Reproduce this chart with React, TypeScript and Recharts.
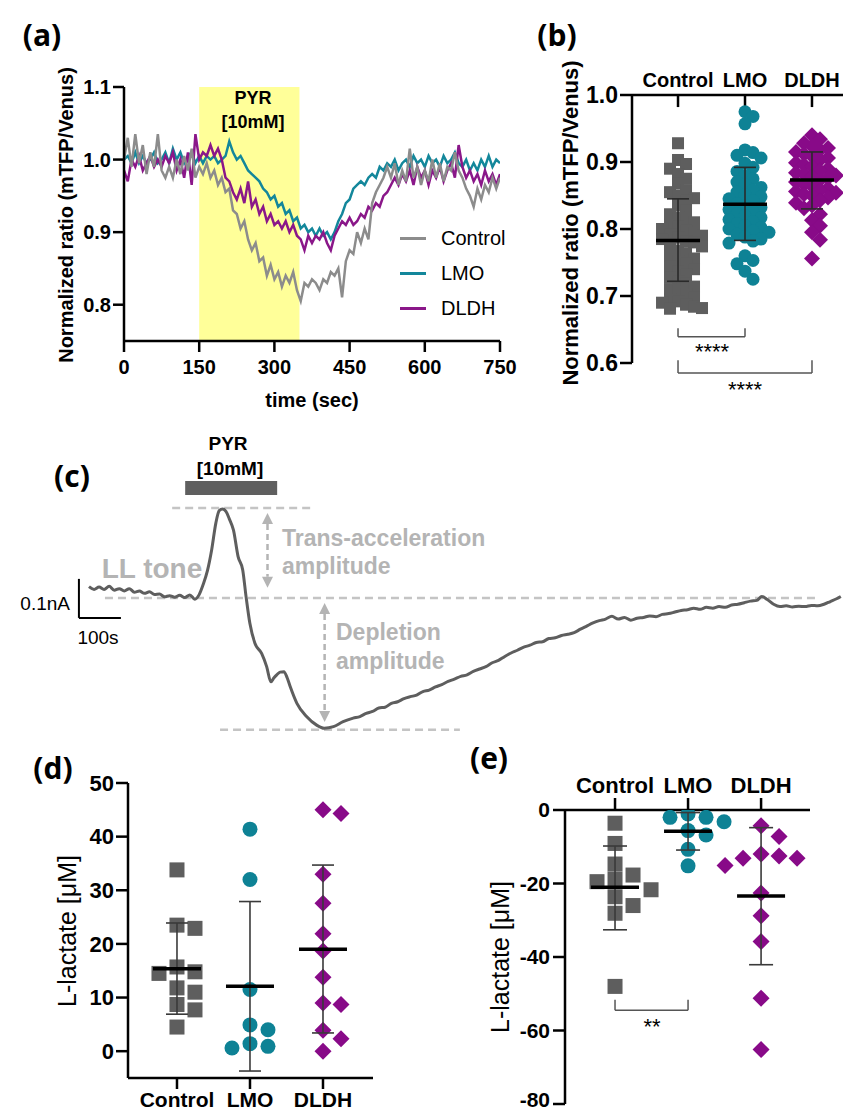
import React from 'react';
import {
  LineChart,
  Line,
  XAxis,
  YAxis,
  ReferenceArea,
  ReferenceLine,
  ScatterChart,
  Scatter,
} from 'recharts';

const FONT = '"Liberation Sans", Arial, sans-serif';
const LABEL_FONT = '"Open Sans", "Liberation Sans", sans-serif';
const GRAY = '#5e5e5e';
const TEAL = '#0e8295';
const PURPLE = '#880a88';
const ANNOT = '#b4b4b4';

const groups = ['Control', 'LMO', 'DLDH'];

// ---- (a) FRET ratio time course, sampled every 7.5 s ----
const aTime = Array.from({ length: 101 }, (_, i) => i * 7.5);
const aControl = [
  1.0, 1.03, 0.99, 1.035, 0.995, 1.02, 0.98, 1.01, 0.99, 1.035,
  0.985, 0.975, 0.99, 0.975, 1.0, 0.98, 1.005, 0.985, 1.015, 0.975,
  0.99, 0.98, 0.995, 0.975, 0.985, 0.965, 0.975, 0.955, 0.96, 0.93,
  0.925, 0.905, 0.915, 0.89, 0.875, 0.885, 0.86, 0.865, 0.84, 0.855,
  0.835, 0.845, 0.825, 0.84, 0.83, 0.845, 0.82, 0.805, 0.83, 0.825,
  0.835, 0.83, 0.82, 0.835, 0.83, 0.845, 0.84, 0.85, 0.81, 0.86,
  0.875, 0.87, 0.9, 0.885, 0.905, 0.89, 0.94, 0.955, 0.965, 0.975,
  0.99, 0.975, 0.995, 0.965, 0.985, 0.97, 1.015, 0.975, 0.99, 0.965,
  0.985, 0.97, 1.0, 0.975, 0.995, 0.97, 0.99, 0.985, 1.01, 0.985,
  0.975, 0.96, 0.95, 0.935, 0.96, 0.945, 0.965, 0.955, 0.975, 0.96,
  0.975,
];
const aLmo = [
  1.0, 1.005, 0.995, 1.01, 0.995, 1.005, 0.995, 1.0, 1.01, 0.995,
  1.0, 1.01, 0.995, 1.015, 1.0, 1.01, 0.995, 1.005, 1.01, 0.995,
  1.005, 0.995, 1.005, 1.0, 1.005, 0.995, 1.0, 1.005, 1.025, 1.01,
  1.0, 1.005, 0.995, 0.985, 0.98, 0.975, 0.97, 0.96, 0.955, 0.945,
  0.95, 0.935, 0.94, 0.925, 0.93, 0.915, 0.92, 0.905, 0.91, 0.9,
  0.905, 0.895, 0.905, 0.895, 0.9, 0.89, 0.9, 0.915, 0.925, 0.94,
  0.945, 0.96, 0.965, 0.97, 0.965, 0.975, 0.98, 0.975, 0.99, 0.985,
  0.995, 0.99, 1.0, 0.985, 0.995, 1.0, 0.99, 1.005, 0.995, 1.0,
  0.99, 1.005, 0.995, 1.0, 0.99, 1.005, 0.995, 1.0, 1.01, 0.995,
  0.99, 1.0, 0.985, 0.995, 0.985, 1.0, 0.99, 1.005, 0.99, 1.0,
  0.995,
];
const aDldh = [
  0.985, 0.97, 1.0, 0.99, 1.005, 0.985, 0.995, 1.005, 0.99, 1.0,
  0.99, 1.005, 0.995, 1.01, 0.985, 1.0, 0.975, 1.01, 0.965, 1.035,
  1.0, 1.01, 1.005, 1.02, 1.005, 1.015, 1.0, 0.975, 0.97, 0.955,
  0.945, 0.96, 0.94, 0.97, 0.935, 0.945, 0.925, 0.935, 0.915, 0.925,
  0.91, 0.915, 0.905, 0.915, 0.9, 0.91, 0.895, 0.89, 0.875, 0.895,
  0.885, 0.895, 0.89, 0.9, 0.885, 0.875, 0.895, 0.905, 0.915, 0.91,
  0.92, 0.91, 0.915, 0.925, 0.92, 0.935, 0.93, 0.94, 0.935, 0.95,
  0.955, 0.965, 0.975, 0.965, 0.98, 0.97, 0.985, 0.965, 0.99, 0.975,
  0.985, 0.965, 0.985, 0.975, 0.99, 0.97, 0.985, 0.995, 0.975, 1.02,
  0.99, 0.975, 0.985, 0.97, 0.98, 0.965, 0.985, 0.97, 0.98, 0.965,
  0.98,
];
const aTicksX = [0, 150, 300, 450, 600, 750];
const aTicksY = [0.8, 0.9, 1.0, 1.1];
const aSeries = [
  { key: 'lmo', name: 'LMO', color: '#13879b' },
  { key: 'dldh', name: 'DLDH', color: '#8a1789' },
  { key: 'control', name: 'Control', color: '#8c8c8c' },
];
const aLegend = ['Control', 'LMO', 'DLDH'];

// ---- (b) normalized ratio per cell ----
const bControl = [
  0.928, 0.903, 0.897, 0.89, 0.882, 0.875, 0.868, 0.858, 0.855, 0.85,
  0.846, 0.842, 0.835, 0.828, 0.822, 0.817, 0.812, 0.81, 0.806, 0.803,
  0.8, 0.798, 0.795, 0.792, 0.79, 0.787, 0.785, 0.782, 0.78, 0.777,
  0.774, 0.768, 0.764, 0.76, 0.756, 0.752, 0.748, 0.744, 0.74, 0.736,
  0.732, 0.727, 0.722, 0.718, 0.714, 0.71, 0.706, 0.702, 0.698, 0.695,
  0.692, 0.69, 0.687, 0.684, 0.682, 0.681,
];
const bLmo = [
  0.975, 0.968, 0.957, 0.918, 0.914, 0.91, 0.906, 0.898, 0.892, 0.886,
  0.88, 0.875, 0.87, 0.866, 0.862, 0.858, 0.855, 0.851, 0.848, 0.845,
  0.842, 0.838, 0.835, 0.832, 0.829, 0.826, 0.823, 0.82, 0.817, 0.814,
  0.811, 0.808, 0.805, 0.802, 0.8, 0.797, 0.795, 0.792, 0.788, 0.785,
  0.782, 0.779, 0.76, 0.753, 0.748, 0.737, 0.725,
];
const bDldh = [
  0.94, 0.934, 0.928, 0.924, 0.921, 0.918, 0.915, 0.912, 0.909, 0.906,
  0.903, 0.899, 0.896, 0.893, 0.89, 0.887, 0.884, 0.882, 0.88, 0.878,
  0.876, 0.873, 0.87, 0.867, 0.864, 0.861, 0.858, 0.856, 0.854, 0.852,
  0.85, 0.847, 0.843, 0.839, 0.835, 0.831, 0.822, 0.813, 0.805, 0.795,
  0.784, 0.756,
];
const bMean = [0.783, 0.837, 0.873];
const bSdLow = [0.722, 0.783, 0.83];
const bSdHigh = [0.845, 0.892, 0.915];
const bTicksY = [0.6, 0.7, 0.8, 0.9, 1.0];

// ---- (c) amperometric trace (time s, current nA vs. baseline) ----
const cTime = [
  0, 12, 24, 36, 48, 60, 72, 84, 96, 108, 120, 132, 144, 156, 168, 180, 192, 204,
  216, 228, 240, 252, 262, 272, 282, 292, 302, 310, 318, 326, 334, 344, 355, 366,
  374, 383, 395, 411, 423, 433, 440, 447, 455, 464, 472, 479, 495, 518, 542, 560,
  582, 605, 629, 645, 660, 675, 690, 705, 720, 735, 750, 765, 780, 795, 810, 825,
  840, 855, 870, 885, 900, 915, 930, 945, 960, 975, 990, 1005, 1020, 1035, 1050,
  1065, 1080, 1095, 1110, 1125, 1140, 1155, 1170, 1185, 1200, 1215, 1230, 1245,
  1260, 1275, 1290, 1305, 1320, 1335, 1350, 1365, 1380, 1395, 1410, 1425, 1440,
  1455, 1470, 1485, 1500, 1515, 1530, 1545, 1560, 1575, 1590, 1602, 1615, 1630,
  1645, 1660, 1675, 1690, 1705, 1720, 1735, 1750, 1765, 1780, 1790,
];
const cCurrent = [
  0.029, 0.022, 0.028, 0.022, 0.03, 0.02, 0.024, 0.018, 0.024, 0.015, 0.018, 0.012,
  0.016, 0.009, 0.01, 0.003, 0.006, 0.002, 0.007, 0.001, 0.008, -0.003, 0.008,
  0.035, 0.07, 0.123, 0.192, 0.224, 0.228, 0.222, 0.203, 0.174, 0.106, 0.072,
  0.003, -0.065, -0.116, -0.142, -0.176, -0.215, -0.205, -0.197, -0.19, -0.189,
  -0.205, -0.227, -0.27, -0.304, -0.326, -0.334, -0.33, -0.317, -0.308, -0.304,
  -0.296, -0.291, -0.282, -0.28, -0.27, -0.266, -0.258, -0.253, -0.249, -0.24,
  -0.236, -0.228, -0.222, -0.214, -0.208, -0.201, -0.197, -0.188, -0.182, -0.176,
  -0.166, -0.16, -0.15, -0.141, -0.134, -0.126, -0.121, -0.114, -0.112, -0.104,
  -0.102, -0.096, -0.093, -0.089, -0.08, -0.072, -0.064, -0.058, -0.054, -0.047,
  -0.054, -0.05, -0.057, -0.052, -0.05, -0.046, -0.048, -0.042, -0.04, -0.036,
  -0.032, -0.03, -0.026, -0.029, -0.024, -0.026, -0.022, -0.024, -0.018, -0.016,
  -0.012, -0.008, -0.006, 0.004, -0.004, -0.016, -0.022, -0.02, -0.023, -0.021,
  -0.022, -0.019, -0.02, -0.016, -0.009, -0.002, 0.004,
];
const cPeak = 0.231;
const cTrough = -0.338;
const cPyr = [229, 448];

// ---- (d) L-lactate trans-acceleration ----
const dControl = [33.8, 23.5, 22.9, 15.7, 14.8, 14.5, 11.8, 11.0, 8.7, 7.7, 4.5];
const dLmo = [41.4, 32.0, 11.5, 4.9, 4.0, 1.4, 0.9, 0.6];
const dDldh = [45.0, 44.3, 33.0, 27.6, 21.9, 18.7, 13.8, 9.0, 8.7, 3.9, 2.3, 0.0];
const dMean = [15.35, 12.1, 19.0];
const dSdLow = [6.9, -3.7, 3.4];
const dSdHigh = [23.9, 27.9, 34.7];
const dTicksY = [0, 10, 20, 30, 40, 50];

// ---- (e) L-lactate depletion ----
const eControl = [-3.6, -9.1, -14.7, -17.7, -18.8, -19.5, -21.7, -23.6, -26.0, -28.1, -48.0];
const eLmo = [-1.1, -2.0, -2.0, -3.2, -5.6, -6.8, -10.7, -15.2];
const eDldh = [-4.3, -7.2, -12.0, -12.5, -13.1, -13.1, -15.1, -22.6, -28.8, -35.8, -51.2, -65.2];
const eMean = [-21.0, -5.8, -23.4];
const eSdLow = [-32.6, -10.9, -42.1];
const eSdHigh = [-9.8, -0.7, -4.8];
const eTicksY = [-80, -60, -40, -20, 0];

// spread points of one group sideways so that close values do not overlap (GraphPad style)
function swarm(values: number[], pxPerY: number, gap: number, step: number, pxPerX: number) {
  const order = values.map((_, i) => i).sort((a, b) => values[b] - values[a]);
  const lanes: Record<number, number[]> = {};
  const off = values.map(() => 0);
  order.forEach((i) => {
    const y = values[i] * pxPerY;
    for (let k = 0; k < 40; k++) {
      const lane = k === 0 ? 0 : k % 2 ? (k + 1) / 2 : -k / 2;
      const used = lanes[lane] || [];
      if (used.every((u) => Math.abs(u - y) >= gap)) {
        lanes[lane] = [...used, y];
        off[i] = (lane * step) / pxPerX;
        break;
      }
    }
  });
  return off;
}

function groupPoints(values: number[], gi: number, pxPerY: number, gap: number, step: number, pxPerX: number) {
  const off = swarm(values, pxPerY, gap, step, pxPerX);
  return values.map((v, i) => ({ x: gi + 1 + off[i], y: v }));
}

const square = (s: number, color: string) => (p: any) => (
  <rect x={p.cx - s / 2} y={p.cy - s / 2} width={s} height={s} fill={color} />
);
const dot = (r: number, color: string) => (p: any) => <circle cx={p.cx} cy={p.cy} r={r} fill={color} />;
const diamond = (h: number, color: string) => (p: any) => (
  <polygon
    points={`${p.cx},${p.cy - h} ${p.cx + h},${p.cy} ${p.cx},${p.cy + h} ${p.cx - h},${p.cy}`}
    fill={color}
  />
);
const hBar = (w: number, color: string, sw: number) => (p: any) => (
  <line x1={p.cx - w} x2={p.cx + w} y1={p.cy} y2={p.cy} stroke={color} strokeWidth={sw} />
);

// mean line + SD whiskers, drawn as scatter series so they sit on top of the points
function SummaryMarks(mean: number[], low: number[], high: number[], capW: number, meanW: number, sdColor: string) {
  return [
    ...mean.map((_, i) => (
      <Scatter
        key={`sd${i}`}
        data={[
          { x: i + 1, y: low[i] },
          { x: i + 1, y: high[i] },
        ]}
        line={{ stroke: sdColor, strokeWidth: 1.6 }}
        shape={hBar(capW, sdColor, 1.6)}
        isAnimationActive={false}
      />
    )),
    <Scatter
      key="mean"
      data={mean.map((m, i) => ({ x: i + 1, y: m }))}
      shape={hBar(meanW, '#000', 3.5)}
      isAnimationActive={false}
    />,
  ];
}

const arrowShape = (p: any) => {
  const { x1, y1, x2, y2 } = p;
  const top = Math.min(y1, y2);
  const bot = Math.max(y1, y2);
  const h = 11;
  return (
    <g>
      <line x1={x1} x2={x2} y1={top + h} y2={bot - h} stroke={ANNOT} strokeWidth={2.5} strokeDasharray="6 4" />
      <polygon points={`${x1},${top} ${x1 + 5.5},${top + h} ${x1 - 5.5},${top + h}`} fill={ANNOT} />
      <polygon points={`${x1},${bot} ${x1 + 5.5},${bot - h} ${x1 - 5.5},${bot - h}`} fill={ANNOT} />
    </g>
  );
};

type TxtProps = {
  x: number;
  y: number;
  size: number;
  weight?: number;
  color?: string;
  align?: 'center' | 'left' | 'right';
  rotate?: boolean;
  family?: string;
  children: React.ReactNode;
};

function Txt({ x, y, size, weight = 400, color = '#000', align = 'center', rotate = false, family = FONT, children }: TxtProps) {
  const tx = align === 'center' ? '-50%' : align === 'left' ? '0' : '-100%';
  return (
    <div
      style={{
        position: 'absolute',
        left: x,
        top: y,
        fontSize: size,
        fontWeight: weight,
        color,
        fontFamily: family,
        lineHeight: 1,
        whiteSpace: 'nowrap',
        transform: `translate(${tx}, -50%)${rotate ? ' rotate(-90deg)' : ''}`,
      }}
    >
      {children}
    </div>
  );
}

const axisLine = { stroke: '#000', strokeWidth: 2.5 };
const tickText = (size: number) => ({ fill: '#000', fontSize: size, fontWeight: 700, fontFamily: FONT });
const groupLabel = (v: number) => groups[Math.round(v) - 1] ?? '';

// y tick of panel (e): the lowest label sits at the bottom edge, lift it a little
const eYTick = (p: any) => {
  const low = p.payload.value === eTicksY[0];
  return (
    <text
      x={p.x}
      y={p.y - (low ? 4 : 0)}
      dy="0.355em"
      textAnchor="end"
      fill="#000"
      fontSize={21}
      fontWeight={700}
      fontFamily={FONT}
    >
      {p.payload.value}
    </text>
  );
};

function PanelA() {
  const data = aTime.map((t, i) => ({ t, control: aControl[i], lmo: aLmo[i], dldh: aDldh[i] }));
  return (
    <div style={{ position: 'absolute', left: 0, top: 0 }}>
      <LineChart width={530} height={420} data={data} margin={{ top: 87, right: 30, bottom: 39, left: 64 }}>
        <ReferenceArea x1={150} x2={350} y1={0.75} y2={1.1} fill="#ffff99" fillOpacity={1} stroke="none" />
        <XAxis
          type="number"
          dataKey="t"
          domain={[0, 750]}
          ticks={aTicksX}
          allowDataOverflow
          height={40}
          tickSize={11}
          tickMargin={8}
          axisLine={axisLine}
          tickLine={axisLine}
          tick={tickText(20)}
          interval={0}
        />
        <YAxis
          type="number"
          domain={[0.75, 1.1]}
          ticks={aTicksY}
          allowDataOverflow
          width={60}
          tickSize={11}
          tickMargin={2}
          axisLine={axisLine}
          tickLine={axisLine}
          tick={tickText(20)}
          tickFormatter={(v: number) => v.toFixed(1)}
          interval={0}
        />
        {aSeries.map((s) => (
          <Line
            key={s.key}
            type="linear"
            dataKey={s.key}
            name={s.name}
            stroke={s.color}
            strokeWidth={2.5}
            dot={false}
            isAnimationActive={false}
          />
        ))}
      </LineChart>
    </div>
  );
}

function PanelB() {
  const pxY = 670;
  const pxX = 67;
  return (
    <div style={{ position: 'absolute', left: 530, top: 0 }}>
      <ScatterChart width={313} height={420} margin={{ top: 65, right: 0, bottom: 57, left: 42 }}>
        <XAxis
          type="number"
          dataKey="x"
          orientation="top"
          domain={[0.313, 3.463]}
          ticks={[1, 2, 3]}
          allowDataOverflow
          height={30}
          tickSize={0}
          tickMargin={8}
          axisLine={axisLine}
          tickLine={false}
          tick={tickText(20)}
          tickFormatter={groupLabel}
          interval={0}
        />
        <YAxis
          type="number"
          dataKey="y"
          domain={[0.6, 1.0]}
          ticks={bTicksY}
          allowDataOverflow
          width={60}
          tickSize={12}
          tickMargin={2}
          axisLine={axisLine}
          tickLine={axisLine}
          tick={tickText(23)}
          tickFormatter={(v: number) => v.toFixed(1)}
          interval={0}
        />
        {[1, 2, 3].map((g) => (
          <ReferenceLine key={g} segment={[{ x: g, y: 1.0 }, { x: g, y: 0.982 }]} stroke="#000" strokeWidth={2.5} />
        ))}
        <Scatter data={groupPoints(bControl, 0, pxY, 9, 8, pxX)} shape={square(12, GRAY)} isAnimationActive={false} />
        <Scatter data={groupPoints(bLmo, 1, pxY, 9, 8, pxX)} shape={dot(6.5, TEAL)} isAnimationActive={false} />
        <Scatter data={groupPoints(bDldh, 2, pxY, 9, 8, pxX)} shape={diamond(8, PURPLE)} isAnimationActive={false} />
        {SummaryMarks(bMean, bSdLow, bSdHigh, 11, 22, '#2a2a2a')}
        {[
          [1, 0.652, 1, 0.639],
          [1, 0.639, 2, 0.639],
          [2, 0.639, 2, 0.652],
          [1, 0.604, 1, 0.585],
          [1, 0.585, 3, 0.585],
          [3, 0.585, 3, 0.604],
        ].map(([x1, y1, x2, y2], i) => (
          <ReferenceLine
            key={`br${i}`}
            segment={[{ x: x1, y: y1 }, { x: x2, y: y2 }]}
            stroke="#555"
            strokeWidth={1.5}
            ifOverflow="visible"
          />
        ))}
      </ScatterChart>
    </div>
  );
}

function PanelC() {
  const data = cTime.map((t, i) => ({ t, v: cCurrent[i] }));
  const dash = { stroke: '#c4c4c4', strokeWidth: 2.5, strokeDasharray: '8 5' };
  return (
    <div style={{ position: 'absolute', left: 0, top: 420 }}>
      <LineChart width={843} height={320} data={data} margin={{ top: 0, right: 0, bottom: 0, left: 0 }}>
        <XAxis type="number" dataKey="t" domain={[-211.9, 1795.2]} allowDataOverflow hide />
        <YAxis type="number" domain={[-0.3641, 0.4564]} allowDataOverflow hide />
        <ReferenceArea x1={cPyr[0]} x2={cPyr[1]} y1={0.264} y2={0.3} fill="#5f5f5f" fillOpacity={1} stroke="none" />
        <ReferenceLine segment={[{ x: 198, y: cPeak }, { x: 538, y: cPeak }]} {...dash} />
        <ReferenceLine segment={[{ x: 38, y: 0 }, { x: 1729, y: 0 }]} {...dash} />
        <ReferenceLine segment={[{ x: 312, y: cTrough }, { x: 883, y: cTrough }]} {...dash} />
        <ReferenceLine segment={[{ x: 425, y: 0.218 }, { x: 425, y: 0.026 }]} shape={arrowShape} />
        <ReferenceLine segment={[{ x: 561, y: -0.013 }, { x: 561, y: -0.318 }]} shape={arrowShape} />
        <ReferenceLine segment={[{ x: -24, y: 0.049 }, { x: -24, y: -0.051 }]} stroke="#000" strokeWidth={2} />
        <ReferenceLine segment={[{ x: -24, y: -0.051 }, { x: 76, y: -0.051 }]} stroke="#000" strokeWidth={2} />
        <Line
          type="monotone"
          dataKey="v"
          stroke={GRAY}
          strokeWidth={3}
          dot={false}
          isAnimationActive={false}
        />
      </LineChart>
    </div>
  );
}

function PanelD() {
  const pxY = 5.35;
  const pxX = 73;
  return (
    <div style={{ position: 'absolute', left: 0, top: 740 }}>
      <ScatterChart width={420} height={373} margin={{ top: 43, right: 47, bottom: 5, left: 68 }}>
        <XAxis
          type="number"
          dataKey="x"
          domain={[0.329, 3.685]}
          ticks={[1, 2, 3]}
          allowDataOverflow
          height={30}
          tickSize={11}
          tickMargin={3}
          axisLine={axisLine}
          tickLine={axisLine}
          tick={tickText(21)}
          tickFormatter={groupLabel}
          interval={0}
        />
        <YAxis
          type="number"
          dataKey="y"
          domain={[-5, 50]}
          ticks={dTicksY}
          allowDataOverflow
          width={60}
          tickSize={12}
          tickMargin={2}
          axisLine={axisLine}
          tickLine={axisLine}
          tick={tickText(22)}
          interval={0}
        />
        <Scatter data={groupPoints(dControl, 0, pxY, 15, 18, pxX)} shape={square(15, GRAY)} isAnimationActive={false} />
        <Scatter data={groupPoints(dLmo, 1, pxY, 15, 18, pxX)} shape={dot(7.5, TEAL)} isAnimationActive={false} />
        <Scatter data={groupPoints(dDldh, 2, pxY, 15, 18, pxX)} shape={diamond(8.5, PURPLE)} isAnimationActive={false} />
        {SummaryMarks(dMean, dSdLow, dSdHigh, 11, 24, '#3a3a3a')}
      </ScatterChart>
    </div>
  );
}

function PanelE() {
  const pxY = 3.675;
  const pxX = 73;
  return (
    <div style={{ position: 'absolute', left: 420, top: 740 }}>
      <ScatterChart width={423} height={373} margin={{ top: 40, right: 33, bottom: 9, left: 85 }}>
        <XAxis
          type="number"
          dataKey="x"
          orientation="top"
          domain={[0.315, 3.67]}
          ticks={[1, 2, 3]}
          allowDataOverflow
          height={30}
          tickSize={12}
          tickMargin={5}
          axisLine={axisLine}
          tickLine={axisLine}
          tick={tickText(22)}
          tickFormatter={groupLabel}
          interval={0}
        />
        <YAxis
          type="number"
          dataKey="y"
          domain={[-80, 0]}
          ticks={eTicksY}
          allowDataOverflow
          width={60}
          tickSize={12}
          tickMargin={3}
          axisLine={axisLine}
          tickLine={axisLine}
          tick={eYTick}
          interval={0}
        />
        <Scatter data={groupPoints(eControl, 0, pxY, 15, 18, pxX)} shape={square(15, GRAY)} isAnimationActive={false} />
        <Scatter data={groupPoints(eLmo, 1, pxY, 15, 18, pxX)} shape={dot(7.5, TEAL)} isAnimationActive={false} />
        <Scatter data={groupPoints(eDldh, 2, pxY, 15, 18, pxX)} shape={diamond(8.5, PURPLE)} isAnimationActive={false} />
        {SummaryMarks(eMean, eSdLow, eSdHigh, 12, 24, '#3a3a3a')}
        {[
          [1, -51.6, 1, -54.5],
          [1, -54.5, 2, -54.5],
          [2, -54.5, 2, -51.6],
        ].map(([x1, y1, x2, y2], i) => (
          <ReferenceLine
            key={`br${i}`}
            segment={[{ x: x1, y: y1 }, { x: x2, y: y2 }]}
            stroke="#555"
            strokeWidth={1.5}
            ifOverflow="visible"
          />
        ))}
      </ScatterChart>
    </div>
  );
}

export default function App() {
  return (
    <div style={{ position: 'absolute', left: 0, top: 0, width: 843, height: 1113, background: '#fff', fontFamily: FONT, overflow: 'hidden' }}>
      <PanelA />
      <PanelB />
      <PanelC />
      <PanelD />
      <PanelE />

      {/* panel letters */}
      <Txt x={42} y={35} size={30} weight={700} family={LABEL_FONT}>(a)</Txt>
      <Txt x={557} y={35} size={30} weight={700} family={LABEL_FONT}>(b)</Txt>
      <Txt x={72} y={476} size={30} weight={700} family={LABEL_FONT}>(c)</Txt>
      <Txt x={53} y={768} size={30} weight={700} family={LABEL_FONT}>(d)</Txt>
      <Txt x={489} y={758} size={30} weight={700} family={LABEL_FONT}>(e)</Txt>

      {/* (a) */}
      <Txt x={253} y={98} size={18} weight={700}>PYR</Txt>
      <Txt x={253} y={122} size={18} weight={700}>[10mM]</Txt>
      <Txt x={66} y={215} size={20} weight={700} rotate>Normalized ratio (mTFP/Venus)</Txt>
      <Txt x={312} y={400} size={20} weight={700}>time (sec)</Txt>
      {aLegend.map((name, i) => {
        const s = aSeries.find((d) => d.name === name)!;
        const y = 238 + i * 35;
        return (
          <React.Fragment key={name}>
            <div style={{ position: 'absolute', left: 400, top: y - 1.5, width: 26, height: 3, background: s.color }} />
            <Txt x={441} y={y} size={20} align="left">{name}</Txt>
          </React.Fragment>
        );
      })}

      {/* (b) */}
      <Txt x={571} y={223} size={22} weight={700} rotate>Normalized ratio (mTFP/Venus)</Txt>
      <Txt x={712} y={352} size={22}>****</Txt>
      <Txt x={745} y={390} size={22}>****</Txt>

      {/* (c) */}
      <Txt x={228} y={443} size={19} weight={700}>PYR</Txt>
      <Txt x={230} y={468} size={19} weight={700}>[10mM]</Txt>
      <Txt x={152} y={569} size={28} weight={700} color={ANNOT}>LL tone</Txt>
      <Txt x={282} y={538} size={23} weight={700} color={ANNOT} align="left">Trans-acceleration</Txt>
      <Txt x={282} y={566} size={23} weight={700} color={ANNOT} align="left">amplitude</Txt>
      <Txt x={336} y={632} size={23} weight={700} color={ANNOT} align="left">Depletion</Txt>
      <Txt x={336} y={661} size={23} weight={700} color={ANNOT} align="left">amplitude</Txt>
      <Txt x={70} y={603} size={19} align="right">0.1nA</Txt>
      <Txt x={98} y={637} size={19}>100s</Txt>

      {/* (d) */}
      <Txt x={67} y={931} size={25} rotate>L-lactate [μM]</Txt>

      {/* (e) */}
      <Txt x={500} y={957} size={25} rotate>L-lactate [μM]</Txt>
      <Txt x={652} y={1027} size={22}>**</Txt>
    </div>
  );
}
